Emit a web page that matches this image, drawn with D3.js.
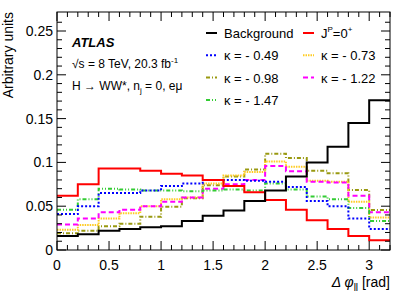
<!DOCTYPE html>
<html>
<head>
<meta charset="utf-8">
<script src="https://cdn.jsdelivr.net/npm/d3@7"></script>
<style>
  body { margin: 0; background: #fff; }
  svg { font-family: "Liberation Sans", Arial, sans-serif; }
</style>
</head>
<body>
<div class="chart"></div>
<script>
// bin edges: 16 bins of 0.2 rad
var binEdges = d3.range(0, 3.2001, 0.2);

var background = [0.016, 0.018, 0.022, 0.024, 0.026, 0.027, 0.033, 0.039, 0.045, 0.056, 0.068, 0.084, 0.100, 0.118, 0.145, 0.171];
var spin0      = [0.062, 0.075, 0.093, 0.093, 0.0905, 0.087, 0.085, 0.080, 0.073, 0.066, 0.057, 0.046, 0.034, 0.024, 0.016, 0.011];
var k049       = [0.041, 0.050, 0.065, 0.065, 0.068, 0.073, 0.076, 0.080, 0.080, 0.079, 0.078, 0.072, 0.056, 0.050, 0.036, 0.024];
var k073       = [0.023, 0.0285, 0.036, 0.042, 0.050, 0.058, 0.060, 0.076, 0.085, 0.089, 0.101, 0.095, 0.079, 0.078, 0.055, 0.037];
var k098       = [0.019, 0.022, 0.027, 0.030, 0.038, 0.0495, 0.059, 0.074, 0.084, 0.092, 0.110, 0.105, 0.0905, 0.0875, 0.0685, 0.0457];
var k122       = [0.029, 0.036, 0.043, 0.046, 0.050, 0.055, 0.060, 0.070, 0.075, 0.080, 0.096, 0.090, 0.078, 0.077, 0.062, 0.043];
var k147       = [0.046, 0.058, 0.070, 0.069, 0.068, 0.068, 0.067, 0.068, 0.069, 0.068, 0.076, 0.069, 0.061, 0.058, 0.048, 0.033];

var xTicks = [0, 0.5, 1, 1.5, 2, 2.5, 3];
var yTicks = [0, 0.05, 0.1, 0.15, 0.2, 0.25];

var series = [
  {name: "κ = - 0.98", values: k098, color: "#999910", dash: "4,2,1,2"},
  {name: "κ = - 0.73", values: k073, color: "#ffcc22", dash: "1.5,1"},
  {name: "κ = - 1.22", values: k122, color: "#ff00ff", dash: "5,3"},
  {name: "κ = - 1.47", values: k147, color: "#33cc33", dash: "4,2,1,2,1,2"},
  {name: "κ = - 0.49", values: k049, color: "#0000ff", dash: "2,2"},
  {name: "J", values: spin0, color: "#ff0000", dash: null},
  {name: "Background", values: background, color: "#000000", dash: null}
];

var W = 407, H = 292;
var margin = {top: 12, right: 17, bottom: 42, left: 57};
var width = W - margin.left - margin.right;
var height = H - margin.top - margin.bottom;

var svg = d3.select(".chart").append("svg")
    .attr("width", W)
    .attr("height", H)
  .append("g")
    .attr("transform", "translate(" + margin.left + "," + margin.top + ")");

var x = d3.scaleLinear().domain([0, 3.2]).range([0, width]);
var y = d3.scaleLinear().domain([0, 0.2717]).range([height, 0]);

// histograms
var line = d3.line()
    .x(function(d) { return x(d[0]); })
    .y(function(d) { return y(d[1]); })
    .curve(d3.curveStepAfter);

function steps(vals) {
  var pts = vals.map(function(v, i) { return [binEdges[i], v]; });
  pts.push([binEdges[vals.length], vals[vals.length - 1]]);
  return pts;
}

svg.append("g").selectAll("path")
  .data(series)
  .enter().append("path")
    .attr("d", function(d) { return line(steps(d.values)); })
    .attr("fill", "none")
    .attr("stroke", function(d) { return d.color; })
    .attr("stroke-width", 2)
    .attr("stroke-dasharray", function(d) { return d.dash; });

// frame and ticks (ROOT style, inward, on all four sides)
svg.append("rect")
  .attr("width", width).attr("height", height)
  .attr("fill", "none").attr("stroke", "#000").attr("stroke-width", 1);

var xMinor = d3.range(0, 3.2001, 0.1);
var yMinor = d3.range(0, 0.27, 0.01);

function isMajor(v, step) { return Math.abs(v / step - Math.round(v / step)) < 1e-6; }

var ticks = svg.append("g").attr("stroke", "#000").attr("stroke-width", 1);
xMinor.forEach(function(v) {
  var len = isMajor(v, 0.5) ? 9 : 5;
  ticks.append("line").attr("x1", x(v)).attr("x2", x(v)).attr("y1", height).attr("y2", height - len);
  ticks.append("line").attr("x1", x(v)).attr("x2", x(v)).attr("y1", 0).attr("y2", len);
});
yMinor.forEach(function(v) {
  var len = isMajor(v, 0.05) ? 9 : 5;
  ticks.append("line").attr("y1", y(v)).attr("y2", y(v)).attr("x1", 0).attr("x2", len);
  ticks.append("line").attr("y1", y(v)).attr("y2", y(v)).attr("x1", width).attr("x2", width - len);
});

svg.append("g").selectAll("text")
  .data(xTicks)
  .enter().append("text")
    .attr("x", function(d) { return x(d); })
    .attr("y", height + 20)
    .attr("text-anchor", "middle")
    .attr("font-size", 14)
    .text(function(d) { return d3.format("")(d); });

svg.append("g").selectAll("text")
  .data(yTicks)
  .enter().append("text")
    .attr("x", -4)
    .attr("y", function(d) { return y(d) + 5; })
    .attr("text-anchor", "end")
    .attr("font-size", 14)
    .text(function(d) { return d3.format("")(d); });

// axis titles
svg.append("text")
  .attr("transform", "translate(-44,0) rotate(-90)")
  .attr("text-anchor", "end")
  .attr("font-size", 14)
  .text("Arbitrary units");

var xt = svg.append("text")
  .attr("x", width)
  .attr("y", height + 37)
  .attr("text-anchor", "end")
  .attr("font-size", 14);
xt.append("tspan").attr("font-style", "italic").text("Δ φ");
xt.append("tspan").attr("font-size", 10).attr("dy", 4).text("ll");
xt.append("tspan").attr("dy", -4).text(" [rad]");

// ATLAS labels
var lab = svg.append("g").attr("font-size", 12);
lab.append("text").attr("x", 15).attr("y", 35)
  .attr("font-weight", "bold").attr("font-style", "italic").attr("font-size", 13).text("ATLAS");
var t1 = lab.append("text").attr("x", 15).attr("y", 56);
t1.append("tspan").text("√s = 8 TeV, 20.3 fb");
t1.append("tspan").attr("font-size", 8).attr("dy", -5).text("-1");
var t2 = lab.append("text").attr("x", 15).attr("y", 78);
t2.append("tspan").text("H → WW*, n");
t2.append("tspan").attr("font-size", 8).attr("dy", 3).text("j");
t2.append("tspan").attr("dy", -3).text(" = 0, eμ");

// legend
var legendItems = [
  {s: series[6], col: 0, row: 0},
  {s: series[4], col: 0, row: 1},
  {s: series[0], col: 0, row: 2},
  {s: series[3], col: 0, row: 3},
  {s: series[5], col: 1, row: 0},
  {s: series[1], col: 1, row: 1},
  {s: series[2], col: 1, row: 2}
];
var leg = svg.append("g").selectAll("g")
  .data(legendItems)
  .enter().append("g")
    .attr("transform", function(d) {
      return "translate(" + (149 + d.col * 97) + "," + (21 + d.row * 22.3) + ")";
    });
leg.append("line")
  .attr("x1", 0).attr("x2", 11)
  .attr("stroke", function(d) { return d.s.color; })
  .attr("stroke-width", 2)
  .attr("stroke-dasharray", function(d) { return d.s.dash; });
leg.each(function(d) {
  var t = d3.select(this).append("text")
    .attr("x", 18).attr("y", 5)
    .attr("font-size", 13);
  if (d.s.name === "J") {
    t.append("tspan").text("J");
    t.append("tspan").attr("font-size", 8).attr("dy", -6).text("P");
    t.append("tspan").attr("dy", 6).text("=0");
    t.append("tspan").attr("font-size", 8).attr("dy", -6).text("+");
  } else {
    t.text(d.s.name);
  }
});
</script>
</body>
</html>
